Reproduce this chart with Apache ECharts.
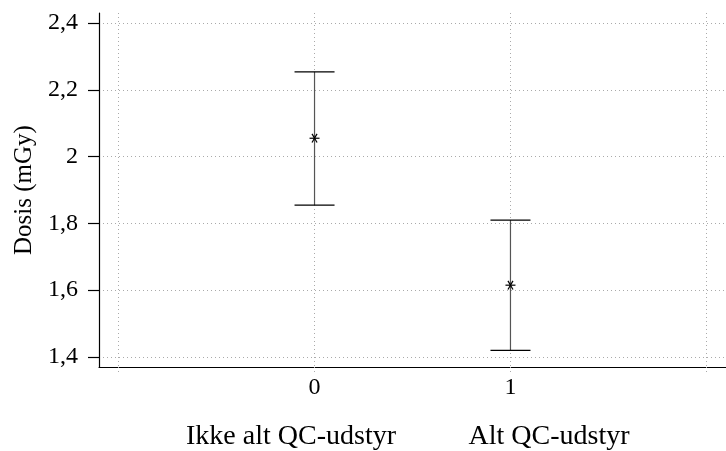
<!DOCTYPE html>
<html><head><meta charset="utf-8">
<script src="https://cdn.jsdelivr.net/npm/echarts@6/dist/echarts.min.js"></script>
<style>html,body{margin:0;padding:0;background:#fff}#c{width:726px;height:451px}</style>
</head><body><div id="c"></div>
<script>
const xPositions = [0, 1];
const categories = ['Ikke alt QC-udstyr', 'Alt QC-udstyr'];
const means = [2.055, 1.615];
const lowers = [1.855, 1.42];
const uppers = [2.254, 1.81];
const yTicks = [1.4, 1.6, 1.8, 2.0, 2.2, 2.4];
const xGridTicks = [-1, 0, 1, 2];
const xLabelTicks = [0, 1];

const FONT = "'Liberation Serif', 'DejaVu Serif', serif";
const chart = echarts.init(document.getElementById('c'));

const errData = xPositions.map((x, i) => [x, lowers[i], uppers[i], means[i]]);

chart.setOption({
  animation: false,
  grid: { left: 99, right: -3, top: 13, bottom: 84 },
  xAxis: {
    type: 'value', min: -1.1, max: 2.1,
    axisLine: { show: true, onZero: false, lineStyle: { color: '#000', width: 1.2 } },
    axisTick: { show: true, customValues: xGridTicks, length: 6, lineStyle: { color: '#aaa', type: [1, 3] } },
    axisLabel: { customValues: xLabelTicks, color: '#000', fontFamily: FONT, fontSize: 24, margin: 9 },
    splitLine: { show: true, lineStyle: { color: '#aaa', type: [1, 3] } }
  },
  yAxis: {
    type: 'value', min: 1.37, max: 2.43,
    name: 'Dosis (mGy)', nameLocation: 'middle', nameGap: 62, nameRotate: 90,
    nameTextStyle: { color: '#000', fontFamily: FONT, fontSize: 25 },
    axisLine: { show: true, onZero: false, lineStyle: { color: '#000', width: 1.2 } },
    axisTick: { show: true, customValues: yTicks, length: 11, lineStyle: { color: '#000', width: 1.2 } },
    axisLabel: { customValues: yTicks, color: '#000', fontFamily: FONT, fontSize: 24, margin: 21,
      formatter: v => String(Math.round(v * 10) / 10).replace('.', ',') },
    splitLine: { show: true, lineStyle: { color: '#aaa', type: [1, 3] } }
  },
  graphic: categories.map((t, i) => ({
    type: 'text', x: [291, 549][i], y: 437,
    style: { text: t, fill: '#000', font: "28px " + FONT, textAlign: 'center', textVerticalAlign: 'middle' }
  })),
  series: [{
    type: 'custom',
    data: errData,
    encode: { x: 0, y: [1, 2, 3] },
    renderItem: (params, api) => {
      const x = api.value(0);
      const lo = api.coord([x, api.value(1)]);
      const hi = api.coord([x, api.value(2)]);
      const m = api.coord([x, api.value(3)]);
      const cap = 20, r = 5;
      const st = { stroke: '#000', lineWidth: 1.2 };
      const kids = [
        { type: 'line', shape: { x1: lo[0], y1: lo[1], x2: hi[0], y2: hi[1] }, style: { stroke: '#555', lineWidth: 1.2 } },
        { type: 'line', shape: { x1: lo[0] - cap, y1: lo[1], x2: lo[0] + cap, y2: lo[1] }, style: st },
        { type: 'line', shape: { x1: hi[0] - cap, y1: hi[1], x2: hi[0] + cap, y2: hi[1] }, style: st }
      ];
      [0, 60, 120].forEach(a => {
        const rad = a * Math.PI / 180;
        kids.push({ type: 'line', shape: { x1: m[0] - r * Math.cos(rad), y1: m[1] - r * Math.sin(rad), x2: m[0] + r * Math.cos(rad), y2: m[1] + r * Math.sin(rad) }, style: st });
      });
      return { type: 'group', children: kids };
    }
  }]
});
</script></body></html>
